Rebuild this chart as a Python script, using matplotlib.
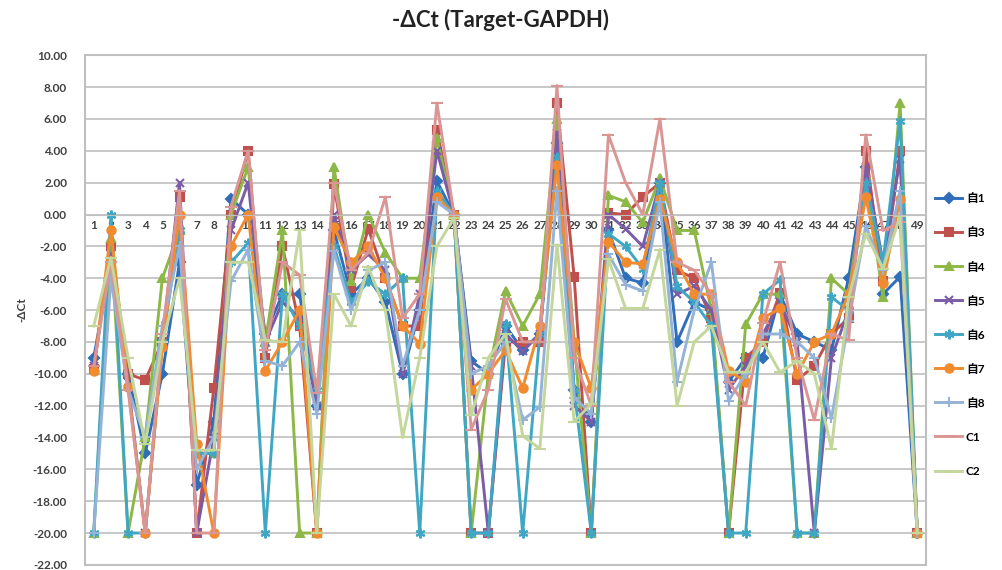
import matplotlib
matplotlib.use("Agg")
import matplotlib.pyplot as plt
from matplotlib.ticker import FormatStrFormatter

plt.rcParams['font.family'] = ['Lato', 'Noto Sans CJK SC', 'DejaVu Sans']

genes = list(range(1, 50))

s1 = [-9, -3, -10, -15, -10, -3, -17, -13, 1, 0, -7.5, -5, -5, -12, -1, -5, -4, -5.5, -10, -6,
      2.1, 0, -9.2, -10, -7, -8.5, -7.5, 4.5, -11, -13, -1, -4, -4.3, 2, -8, -5.5, -6, -10.5, -9, -9,
      -5, -7.5, -8, -8.5, -4, 3, -5, -3.9, -20]
s3 = [-9.7, -2, -10, -10.4, -8, 1.1, -20, -10.9, 0, 4, -9, -2, -7, -20, 1.9, -4.6, -0.9, -4, -7, -7,
      5.3, 0, -20, -20, -8, -8, -8, 7, -3.9, -20, 0.1, 0, 1.1, 2, -3.5, -4, -6.5, -20, -9, -8,
      -4.9, -10.4, -9.5, -7.5, -6.5, 4, -4.2, 4, -20]
s4 = [-20, -1.5, -20, -14, -4, -1, -15, -15, 0, 3, -8, -1, -20, -20, 3, -4.2, 0, -2.4, -4, -4,
      4.8, 0, -20, -10, -4.8, -7, -5, 6, -8, -20, 1.2, 0.8, -0.5, 2.3, -1, -1, -6, -20, -6.9, -5,
      -5, -20, -20, -4, -5, 2.5, -5.2, 7, -20]
s5 = [-9.5, -2.5, -10.5, -20, -8, 2, -20, -14, -1, 2, -8, -5.5, -6.5, -12, 0, -3.5, -2.5, -3.5, -10, -5,
      4, 0, -9.5, -20, -7.5, -8.6, -7.5, 5.1, -12, -13, 0, -0.9, -2, 2, -5, -4.5, -6, -11, -9.5, -7.5,
      -5.5, -8, -20, -9, -6, 3, -3, 3.5, -20]
s6 = [-20, 0, -20, -20, -8, -1, -15, -15, -3, -1.8, -20, -5, -7, -11, -2, -5.5, -4.2, -5, -4, -20,
      1.5, 0, -20, -20, -6.9, -20, -7.5, 3.6, -11, -20, -1.2, -2, -3.4, 2, -4.5, -5.5, -7, -20, -20, -5,
      -4.1, -20, -20, -5.2, -6, 2, -3, 5.9, -20]
s7 = [-9.8, -1, -10.8, -20, -8.3, 0, -14.4, -20, -2, 0, -9.8, -8, -6, -20, -0.8, -3, -2, -4, -7, -8.1,
      1.1, 0, -11, -10, -8.5, -10.9, -7, 3.1, -8, -10.9, -1.7, -3, -3.1, 1, -3, -5, -5, -9.8, -10.5, -6.5,
      -5.9, -10, -8, -7.5, -5, 1.1, -4.3, 1, -20]
s8 = [-20, -4, -11, -14, -7, -2, -16, -14, -4.2, -2.2, -9.2, -9.5, -8, -12.5, -2.3, -6, -3.5, -3, -9.5, -6,
      0.8, 0, -10, -9.5, -8, -12.9, -12.1, 1.5, -11.5, -12.5, -2.5, -4.4, -4.8, 0.8, -10.5, -6, -3, -11.7, -10, -7.5,
      -7.5, -8, -9, -12.8, -6.7, -0.7, -3.5, 1.5, -20]
c1 = [-9.5, -3, -11, -20, -7.5, 1.5, -20, -20, 0.5, 4, -8.5, -3, -3.8, -11.2, 2, -3.5, -2.4, 1.1, -6.5, -5,
      7, 0, -13.5, -11, -5.3, -8, -8, 8.1, -9, -12, 5, 2, 0, 6, -3, -3.5, -5, -10.5, -12, -6.8,
      -3, -9, -12.9, -7.5, -7.9, 5, -1, -0.5, -20]
c2 = [-7, -2.7, -9, -14.4, -8, -4, -14.8, -14.8, -3, -3, -7.9, -8, -1, -20, -5, -7, -3.3, -6, -14, -9,
      -2, -0.2, -12.6, -9, -7.5, -13.9, -14.7, -1.9, -13, -11.9, -2.8, -5.9, -5.9, -2.2, -12, -8, -7, -9.9, -9.9, -8,
      -9.9, -9.2, -10, -14.7, -5.2, -1.2, -3.4, -0.1, -20]

names = ['自1', '自3', '自4', '自5', '自6', '自7', '自8', 'C1', 'C2']
series = [s1, s3, s4, s5, s6, s7, s8, c1, c2]
colors = ['#2F6EBA', '#C0504D', '#8DB847', '#7B5CA6', '#3FA7C3', '#F28A2E', '#95B3D7', '#D99694', '#C3D69B']
markers = ['D', 's', '^', 'x', (6, 2, 0), 'o', '+', '_', '_']
msizes = [5, 5.5, 6, 6, 7, 6, 7, 8, 8]

fig = plt.figure(figsize=(10.02, 5.70), dpi=100)
ax = fig.add_axes([0.085, 0.009, 0.839, 0.894])

for vals, name, col, mk, ms in zip(series, names, colors, markers, msizes):
    ax.plot(genes, vals, color=col, lw=2.1, marker=mk, markersize=ms,
            markeredgewidth=1.5, label=name)

ax.set_xlim(0.5, 49.5)
ax.set_ylim(-22, 10)
ax.set_yticks(range(-22, 11, 2))
ax.yaxis.set_major_formatter(FormatStrFormatter('%.2f'))
ax.grid(axis='y', color='#BFBFBF', lw=1.2)
ax.set_axisbelow(True)

for side in ['left', 'top', 'right']:
    ax.spines[side].set_visible(False)
ax.spines['bottom'].set_position(('data', 0))
ax.spines['bottom'].set_color('#BFBFBF')
ax.patch.set_edgecolor('#BFBFBF')
ax.patch.set_linewidth(1.5)

ax.set_xticks(genes)
ax.set_xticklabels([str(g) for g in genes], fontsize=8.5, fontweight='bold', color='#404040')
ax.tick_params(axis='x', length=0, pad=4)
ax.tick_params(axis='y', length=0, pad=13, labelsize=8.5, labelcolor='#404040')
for t in ax.get_yticklabels():
    t.set_fontweight('bold')

ax.set_ylabel('-ΔCt', fontsize=8.5, fontweight='bold', color='#404040', labelpad=4)
fig.suptitle('-ΔCt (Target-GAPDH)', x=0.5, y=0.985, fontsize=16, fontweight='bold', color='#222222')

ax.legend(loc='center left', bbox_to_anchor=(1.0, 0.451), frameon=False,
          borderaxespad=0.6, borderpad=0.2,
          handlelength=2.3, labelspacing=1.95, handletextpad=0.3,
          prop={'family': ['Lato', 'Noto Sans CJK SC'], 'weight': 'bold', 'size': 8.5})

fig.savefig('out.png', dpi=100)
